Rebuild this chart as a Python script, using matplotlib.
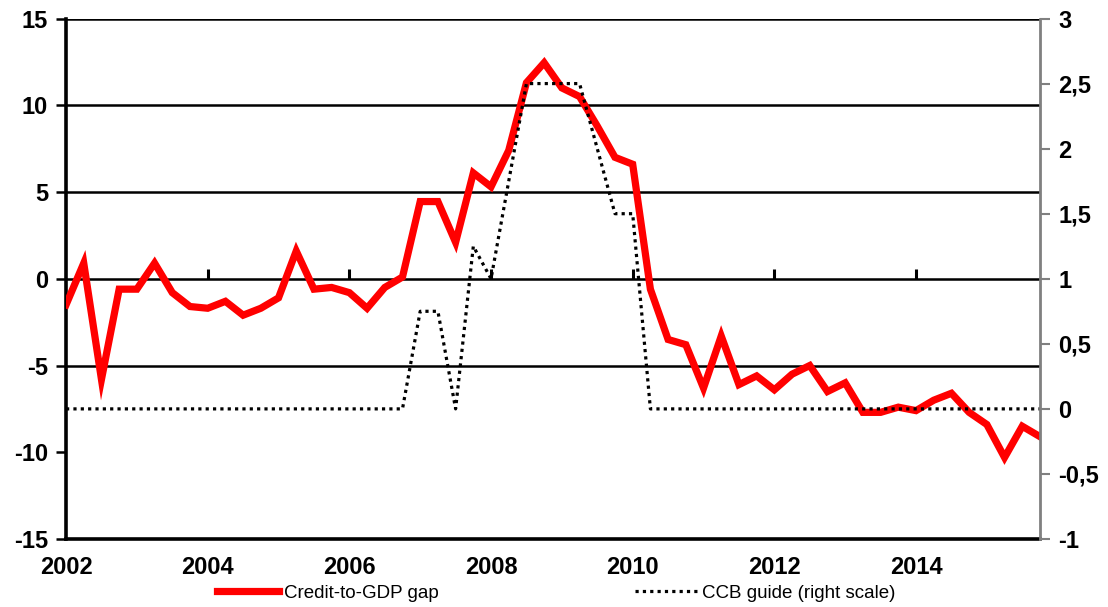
import numpy as np
import matplotlib
matplotlib.use("Agg")
from matplotlib import pyplot as plt

plt.rcParams["font.family"] = ["Liberation Sans", "DejaVu Sans"]
plt.rcParams["axes.unicode_minus"] = False

# quarterly data, 2002Q1 .. 2015Q4
quarters = 2002 + np.arange(56) * 0.25

credit_gap = [
    -1.5, 0.9, -5.8, -0.6, -0.6, 0.9, -0.8, -1.6,
    -1.7, -1.3, -2.1, -1.7, -1.1, 1.6, -0.6, -0.5,
    -0.8, -1.7, -0.5, 0.1, 4.45, 4.45, 2.1, 6.1,
    5.3, 7.4, 11.3, 12.45, 11.0, 10.5, 8.8, 7.0,
    6.6, -0.6, -3.5, -3.8, -6.3, -3.3, -6.1, -5.6,
    -6.4, -5.5, -5.0, -6.5, -6.0, -7.7, -7.7, -7.4,
    -7.6, -7.0, -6.6, -7.7, -8.4, -10.3, -8.5, -9.1,
]

ccb_guide = [
    0, 0, 0, 0, 0, 0, 0, 0,
    0, 0, 0, 0, 0, 0, 0, 0,
    0, 0, 0, 0, 0.75, 0.75, 0, 1.25,
    1.0, 1.75, 2.5, 2.5, 2.5, 2.5, 2.0, 1.5,
    1.5, 0, 0, 0, 0, 0, 0, 0,
    0, 0, 0, 0, 0, 0, 0, 0,
    0, 0, 0, 0, 0, 0, 0, 0,
]

year_ticks = [2002, 2004, 2006, 2008, 2010, 2012, 2014]
left_ticks = [-15, -10, -5, 0, 5, 10, 15]
grid_levels = [-5, 0, 5, 10, 15]
right_ticks = [-1, -0.5, 0, 0.5, 1, 1.5, 2, 2.5, 3]
right_labels = ["-1", "-0,5", "0", "0,5", "1", "1,5", "2", "2,5", "3"]

fig = plt.figure(figsize=(11.08, 6.07), dpi=100)
ax = fig.add_axes([0.0596, 0.112, 0.879, 0.8575])

for lev in grid_levels:
    ax.axhline(lev, color="black", lw=1.8, zorder=1)

red, = ax.plot(quarters, credit_gap, color="#ff0000", lw=5.2,
               solid_joinstyle="miter", zorder=3, label="Credit-to-GDP gap")
ax.set_xlim(2002, 2015.75)
ax.set_ylim(-15, 15)
ax.set_yticks(left_ticks)
ax.set_xticks(year_ticks)
ax.tick_params(axis="x", length=0, pad=12, labelsize=17)
ax.tick_params(axis="y", direction="out", length=7, width=1.8, pad=6, labelsize=17)
for lbl in ax.get_xticklabels() + ax.get_yticklabels():
    lbl.set_fontweight("bold")
ax.spines["top"].set_visible(False)
ax.spines["right"].set_visible(False)
ax.spines["left"].set_linewidth(2.6)
ax.spines["bottom"].set_linewidth(2.6)

# x ticks sit on the zero line (horizontal axis crosses at 0)
sec = ax.secondary_xaxis(0.5)
sec.set_xticks(year_ticks[1:])
sec.xaxis.set_ticklabels([])
sec.tick_params(direction="out", length=7, width=2.2)
sec.spines["bottom"].set_visible(False)

ax2 = ax.twinx()
dots, = ax2.plot(quarters, ccb_guide, color="black", lw=2.3,
                 linestyle=(0, (1, 1.3)), label="CCB guide (right scale)")
ax2.set_ylim(-1, 3)
ax2.set_yticks(right_ticks)
ax2.set_yticklabels(right_labels, fontweight="bold")
ax2.tick_params(axis="y", direction="out", length=7, width=1.5, color="#808080",
                pad=6, labelsize=17)
for s in ["top", "left", "bottom"]:
    ax2.spines[s].set_visible(False)
ax2.spines["right"].set_color("#808080")
ax2.spines["right"].set_linewidth(2)

fig.legend(handles=[red, dots], loc="center", bbox_to_anchor=(0.502, 0.023),
           ncol=2, frameon=False, fontsize=13.5, handlelength=3.3,
           handletextpad=0.25, columnspacing=10.5)

plt.savefig("out.png")
